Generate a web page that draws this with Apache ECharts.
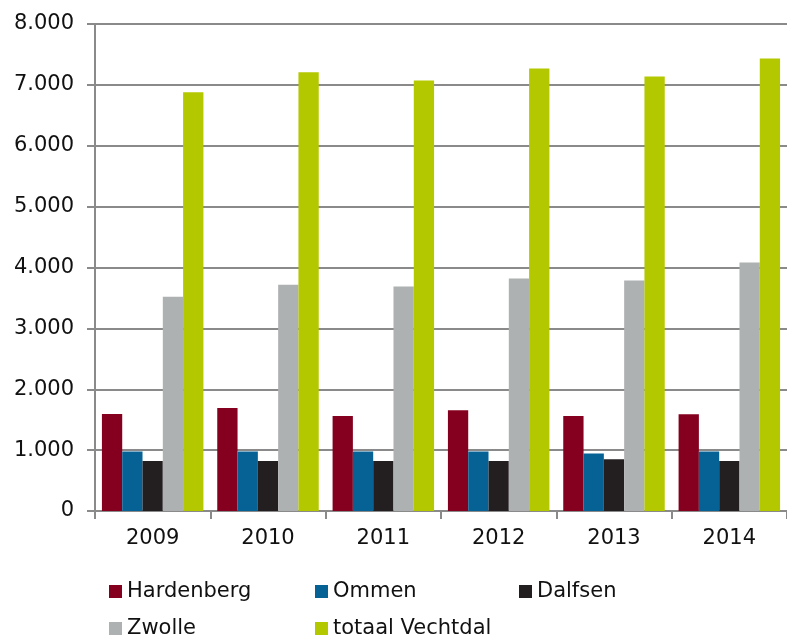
<!DOCTYPE html>
<html>
<head>
<meta charset="utf-8">
<script src="https://cdn.jsdelivr.net/npm/echarts@6/dist/echarts.min.js"></script>
<style>
  html, body { margin: 0; padding: 0; background: #fff; }
  #chart { width: 787px; height: 637px; }
</style>
</head>
<body>
<div id="chart"></div>
<script>
const years = ['2009', '2010', '2011', '2012', '2013', '2014'];
const hardenberg = [1595, 1692, 1562, 1654, 1562, 1589];
const ommen = [978, 978, 978, 978, 946, 978];
const dalfsen = [822, 822, 822, 822, 849, 822];
const zwolle = [3519, 3716, 3689, 3820, 3787, 4082];
const totaalVechtdal = [6880, 7208, 7071, 7268, 7137, 7432];

const seriesNames = ['Hardenberg', 'Ommen', 'Dalfsen', 'Zwolle', 'totaal Vechtdal'];
const seriesData = [hardenberg, ommen, dalfsen, zwolle, totaalVechtdal];
const seriesColors = ['#85001e', '#066194', '#231f20', '#aeb1b2', '#b4c800'];

const font = { fontFamily: 'DejaVu Sans', fontSize: 21, color: '#111' };
const axisGray = '#8a8a8a';

// Dutch thousands separator: 8000 -> 8.000
const fmt = (v) => String(v).replace(/\B(?=(\d{3})+(?!\d))/g, '.');

// legend laid out as a fixed 3-column grid, one legend per entry
const legendSlots = [[104, 576], [310, 576], [514, 576], [104, 613], [310, 613]];

const chart = echarts.init(document.getElementById('chart'));
chart.setOption({
  animation: false,
  grid: { left: 95, right: -6, top: 24, bottom: 126 },
  legend: seriesNames.map((name, i) => ({
    left: legendSlots[i][0],
    top: legendSlots[i][1],
    data: [name],
    itemWidth: 13,
    itemHeight: 13,
    icon: 'rect',
    textStyle: font
  })),
  xAxis: {
    type: 'category',
    data: years,
    axisLine: { lineStyle: { color: axisGray, width: 2 } },
    axisTick: { show: true, length: 8, lineStyle: { color: axisGray, width: 2 } },
    axisLabel: { ...font, margin: 17 }
  },
  yAxis: {
    type: 'value',
    min: 0,
    max: 8000,
    interval: 1000,
    axisLine: { show: true, lineStyle: { color: axisGray, width: 2 } },
    axisTick: { show: true, length: 8, lineStyle: { color: axisGray, width: 2 } },
    splitLine: { lineStyle: { color: axisGray, width: 2 } },
    axisLabel: { ...font, margin: 21, formatter: fmt }
  },
  series: seriesNames.map((name, i) => ({
    name,
    type: 'bar',
    data: seriesData[i],
    barGap: '0%',
    barCategoryGap: '12%',
    itemStyle: { color: seriesColors[i] }
  }))
});
</script>
</body>
</html>
